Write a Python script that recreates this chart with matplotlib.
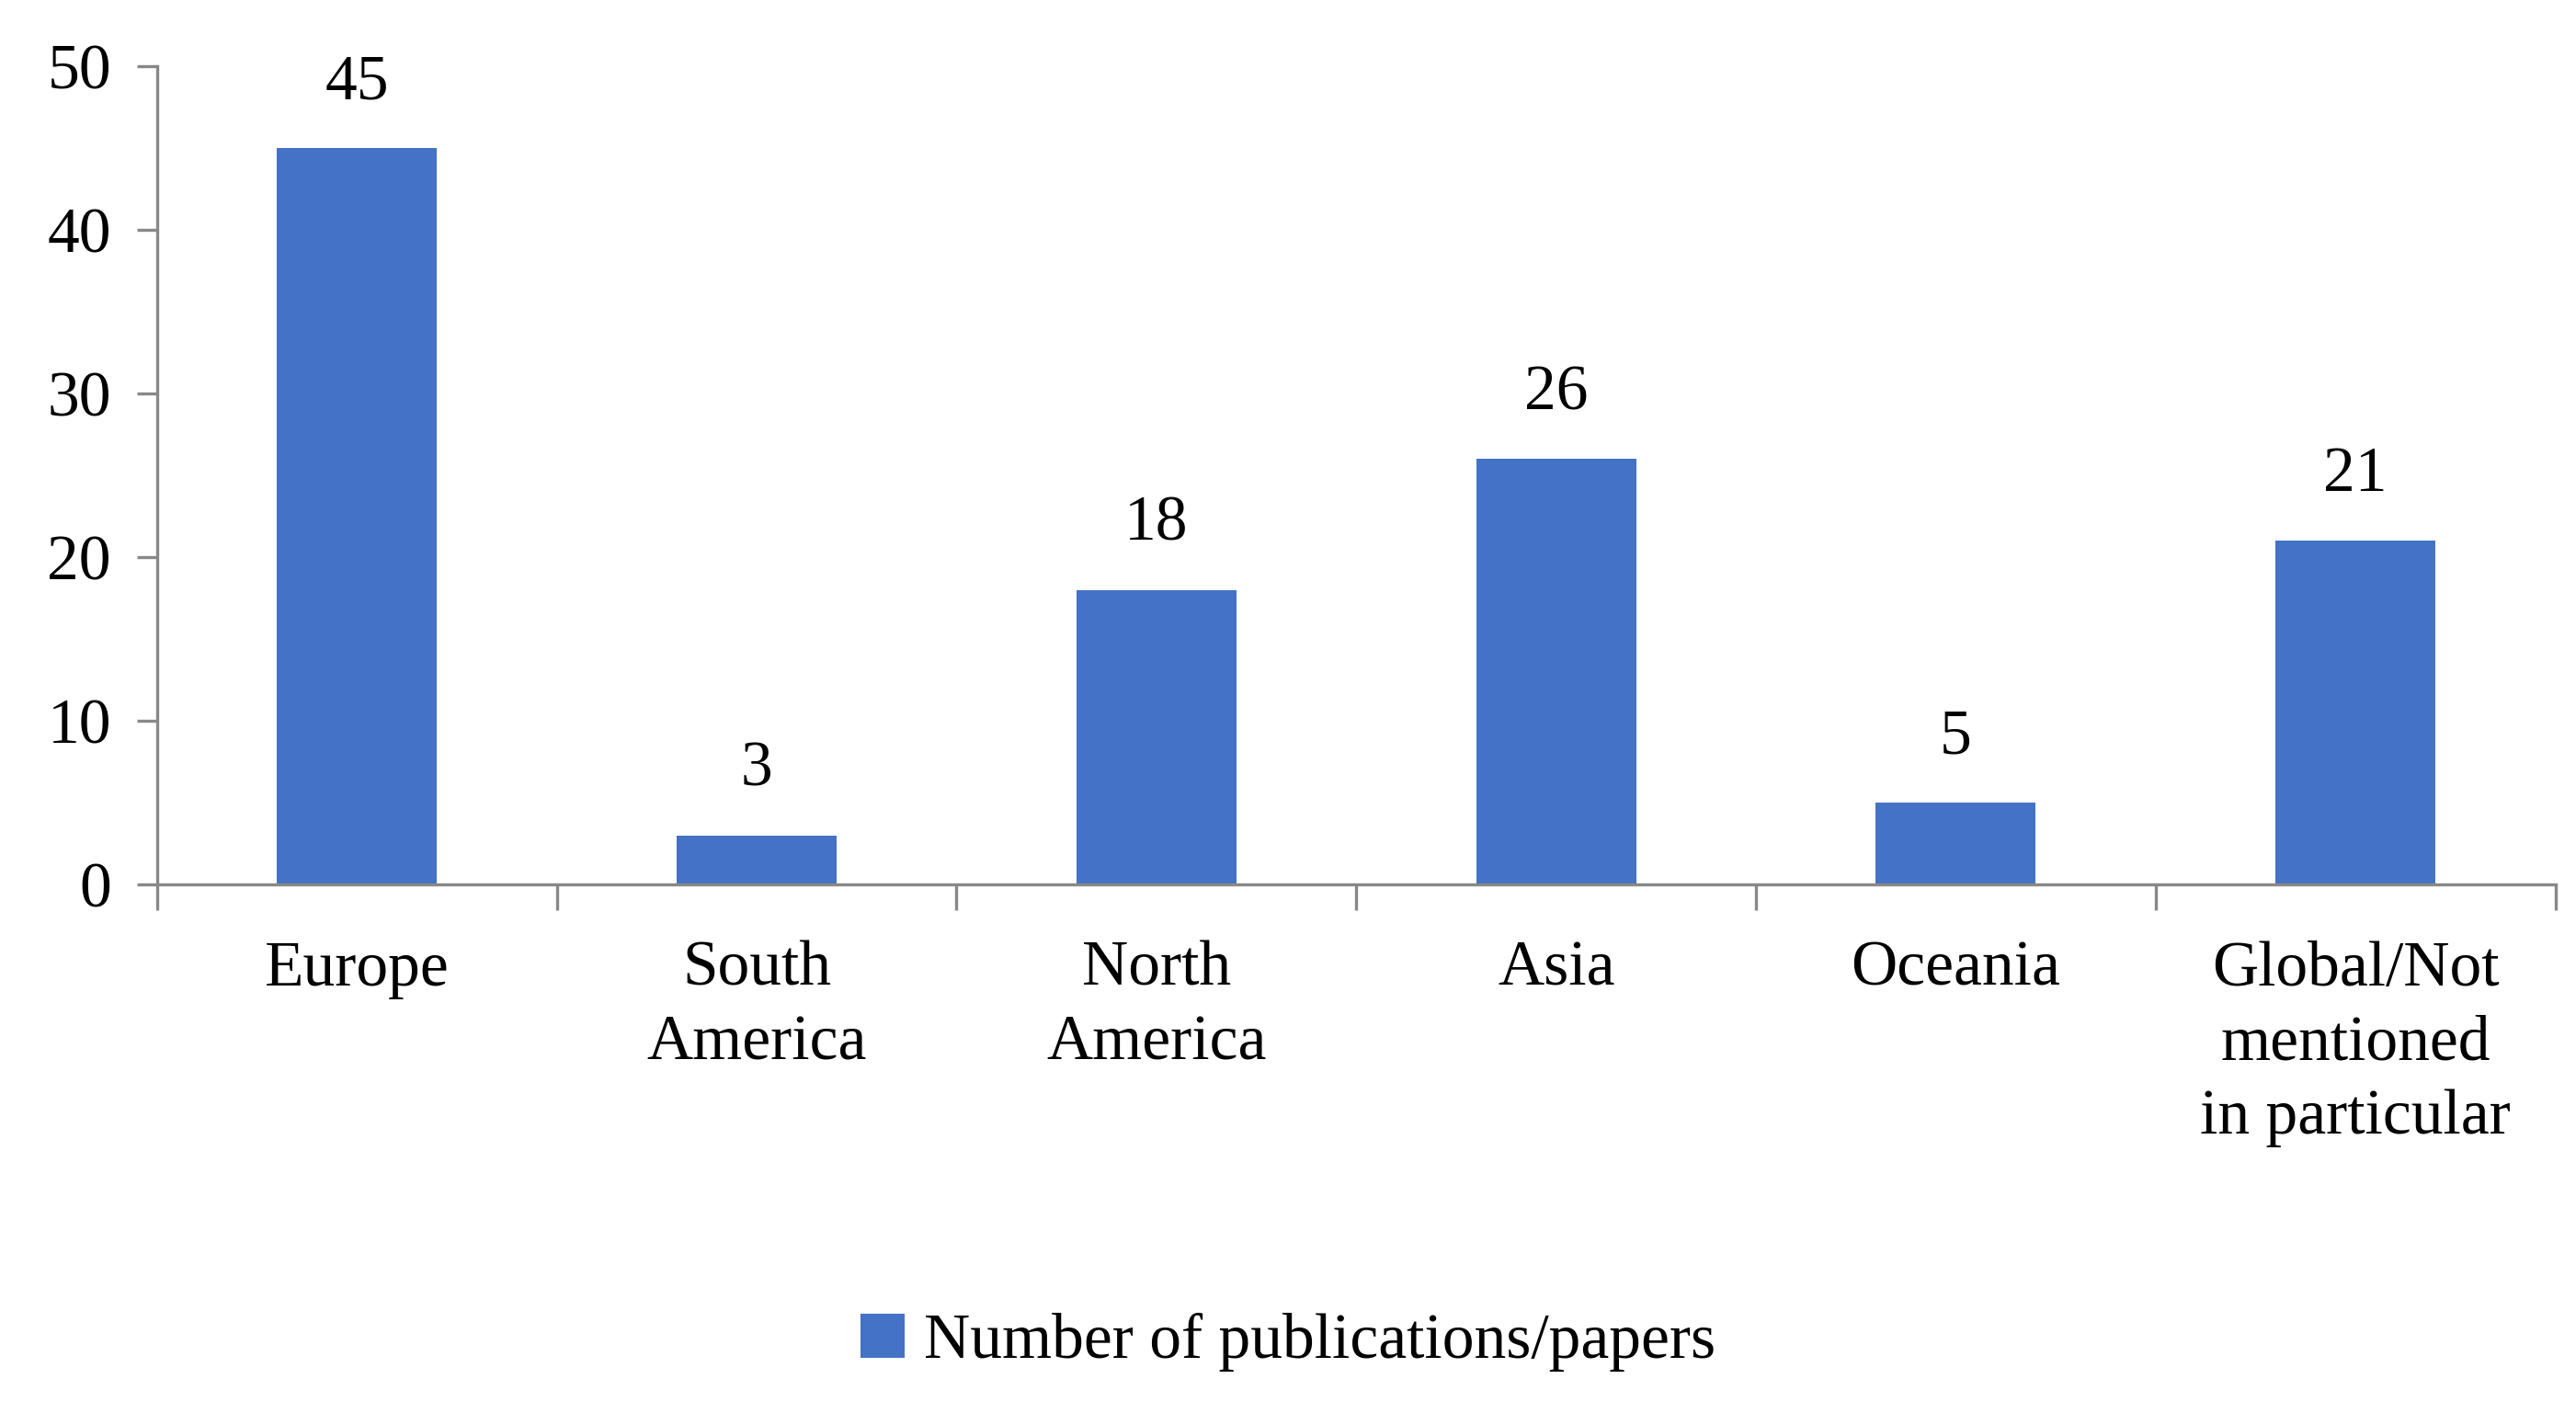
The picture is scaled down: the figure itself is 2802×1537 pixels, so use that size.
import matplotlib
matplotlib.use("Agg")
import matplotlib.pyplot as plt
import numpy as np

categories = ["Europe", "South\nAmerica", "North\nAmerica", "Asia", "Oceania", "Global/Not\nmentioned\nin particular"]
values = [45, 3, 18, 26, 5, 21]
series_name = "Number of publications/papers"

plt.rcParams['font.family'] = ['Liberation Serif', 'DejaVu Serif']
fs = 25
fig = plt.figure(figsize=(14.01, 7.685), dpi=200)
ax = fig.add_axes([0.061, 0.374, 0.931, 0.579])
x = np.arange(len(values))
bars = ax.bar(x, values, width=0.4, color="#4472C4", label=series_name)
for xi, v in zip(x, values):
    ax.text(xi, v + 2.2, str(v), ha="center", va="bottom", fontsize=fs)
ax.set_xlim(-0.5, len(values) - 0.5)
ax.set_ylim(0, 50)
ax.set_yticks(range(0, 51, 10))
ax.tick_params(axis="y", labelsize=fs, length=8, width=1.2, color="#888888", pad=10)
ax.set_xticks(np.arange(-0.5, len(values), 1.0))
ax.set_xticklabels([])
ax.tick_params(axis="x", length=10, width=1.2, color="#888888")
ax.set_xticks(x, minor=True)
ax.set_xticklabels(categories, minor=True, fontsize=fs, linespacing=1.35, va="top")
ax.tick_params(axis="x", which="minor", length=0, pad=22)
for s in ["top", "right"]:
    ax.spines[s].set_visible(False)
for s in ["left", "bottom"]:
    ax.spines[s].set_color("#888888")
    ax.spines[s].set_linewidth(1.2)
fig.legend(handles=[bars], labels=[series_name], loc="center", bbox_to_anchor=(0.5, 0.05),
           frameon=False, fontsize=fs, handlelength=0.7, handleheight=0.7, handletextpad=0.3)
fig.savefig("out.png")
